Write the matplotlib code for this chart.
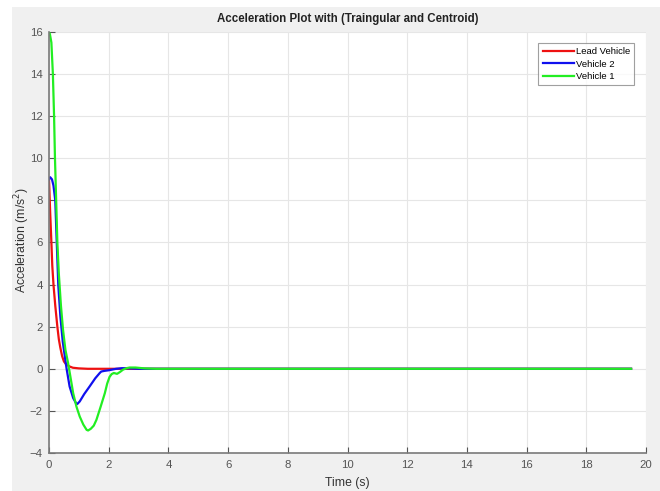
import matplotlib.pyplot as plt
from matplotlib.patches import Rectangle

plt.rcParams['font.family'] = ['Liberation Sans', 'DejaVu Sans']

# Lead Vehicle (red)
t_lead = [0, 0.04, 0.08, 0.11, 0.15, 0.21, 0.28, 0.33, 0.38, 0.44, 0.5, 0.58,
          0.69, 0.8, 1.0, 1.3, 19.5]
a_lead = [9, 7.4, 6, 4.9, 4, 3, 2, 1.4, 1, 0.6, 0.35, 0.2,
          0.11, 0.05, 0.02, 0, 0]

# Vehicle 2 (blue)
t_v2 = [0, 0.04, 0.1, 0.15, 0.21, 0.26, 0.31, 0.38, 0.46, 0.53, 0.59, 0.69,
        0.81, 0.9, 0.95, 1.03, 1.18, 1.36, 1.55, 1.7, 1.75, 1.85, 2.0, 2.25,
        2.45, 2.7, 3.0, 19.5]
a_v2 = [9, 9.1, 9.0, 8.7, 8, 6, 4, 2.5, 1.3, 0.59, 0, -0.84,
        -1.39, -1.62, -1.67, -1.55, -1.2, -0.84, -0.45, -0.2, -0.13, -0.1, -0.07, 0,
        0.03, 0.02, 0, 0]

# Vehicle 1 (green)
t_v1 = [0, 0.03, 0.08, 0.13, 0.17, 0.2, 0.24, 0.28, 0.33, 0.4, 0.47, 0.55,
        0.64, 0.72, 0.81, 0.92, 1.03, 1.15, 1.26, 1.31, 1.4, 1.5, 1.59, 1.73, 1.87,
        1.95, 2.03, 2.1, 2.17, 2.23, 2.28, 2.38, 2.48, 2.6, 2.7, 2.9, 3.2, 3.6, 19.5]
a_v1 = [16, 15.9, 15.5, 14, 12, 10, 8, 6, 4.5, 3, 1.85, 0.9,
        0.27, -0.4, -1.16, -1.8, -2.27, -2.65, -2.9, -2.93, -2.85, -2.7, -2.42, -1.8, -1.16,
        -0.7, -0.38, -0.25, -0.2, -0.22, -0.24, -0.15, -0.04, 0.03, 0.06, 0.06, 0.02, 0, 0]

fig = plt.figure(figsize=(6.6, 4.91), dpi=100, facecolor='white')
# grey MATLAB-style figure background
fig.patches.append(Rectangle((12 / 660, 0), 1, 1 - 7 / 491, transform=fig.transFigure,
                             facecolor='#f0f0f0', edgecolor='none', zorder=-10))

ax = fig.add_axes([49 / 660, 1 - 453 / 491, 597 / 660, 421 / 491])
ax.set_facecolor('white')

ax.plot(t_lead, a_lead, color='#ee1111', linewidth=1.6, label='Lead Vehicle')
ax.plot(t_v2, a_v2, color='#1010ee', linewidth=1.6, label='Vehicle 2')
ax.plot(t_v1, a_v1, color='#22ee22', linewidth=1.6, label='Vehicle 1')

ax.set_xlim(0, 20)
ax.set_ylim(-4, 16)
ax.set_xticks(range(0, 21, 2))
ax.set_yticks(range(-4, 17, 2))
ax.grid(True, color='#e6e6e6', linewidth=0.8)
ax.set_axisbelow(True)

for s in ['top', 'right']:
    ax.spines[s].set_visible(False)
for s in ['left', 'bottom']:
    ax.spines[s].set_color('#7a7a7a')
    ax.spines[s].set_linewidth(1.2)
ax.tick_params(direction='in', length=4, colors='#555555', labelsize=8.2)
ax.tick_params(axis='x', pad=5)
ax.tick_params(axis='y', pad=4.5)

ax.set_title('Acceleration Plot with (Traingular and Centroid)', fontsize=8.3,
             fontweight='bold', color='#222222', pad=7)
ax.set_xlabel('Time (s)', fontsize=8.8, color='#333333', labelpad=5)
ax.set_ylabel('Acceleration (m/s$^2$)', fontsize=8.8, color='#333333')
ax.yaxis.set_label_coords(-0.028, 0.505)

leg = ax.legend(loc='upper right', fontsize=6.8, frameon=True, fancybox=False,
                handlelength=3.3, handletextpad=0.2, borderpad=0.45, labelspacing=0.35,
                bbox_to_anchor=(0.988, 0.985))
leg.get_frame().set_edgecolor('#888888')
leg.get_frame().set_linewidth(0.8)

fig.savefig('out.png', dpi=100, facecolor=fig.get_facecolor())
